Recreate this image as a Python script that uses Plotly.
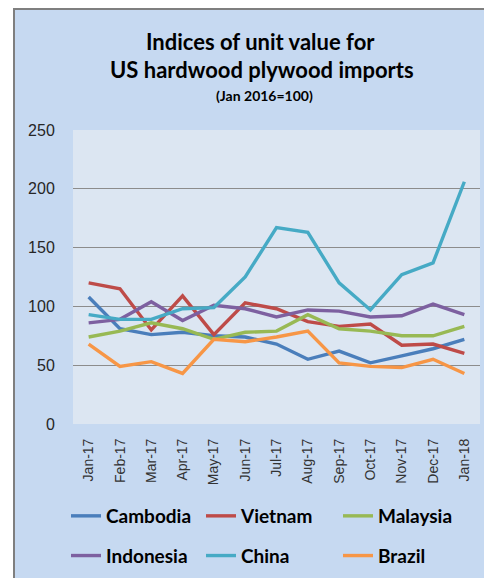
import plotly.graph_objects as go

months = ["Jan-17", "Feb-17", "Mar-17", "Apr-17", "May-17", "Jun-17", "Jul-17",
          "Aug-17", "Sep-17", "Oct-17", "Nov-17", "Dec-17", "Jan-18"]

cambodia = [108, 81, 76, 78, 75, 74, 68, 55, 62, 52, 58, 64, 72]
vietnam = [120, 115, 80, 109, 76, 103, 98, 87, 83, 85, 67, 68, 60]
malaysia = [74, 79, 86, 81, 72, 78, 79, 93, 81, 79, 75, 75, 83]
indonesia = [86, 89, 104, 88, 101, 98, 91, 97, 96, 91, 92, 102, 93]
china = [93, 89, 89, 98, 99, 125, 167, 163, 120, 97, 127, 137, 206]
brazil = [68, 49, 53, 43, 72, 70, 74, 79, 52, 49, 48, 55, 43]

series = [
    ("Cambodia", cambodia, "#4A7EBB", "legend"),
    ("Vietnam", vietnam, "#BE4B48", "legend2"),
    ("Malaysia", malaysia, "#98B954", "legend3"),
    ("Indonesia", indonesia, "#7D60A0", "legend"),
    ("China", china, "#46AAC5", "legend2"),
    ("Brazil", brazil, "#F79646", "legend3"),
]

# page body has an 8px margin; work in reference-pixel coordinates and shift
OFF = 8
W, H = 492, 578


def fx(x):
    return x - OFF


def fy(y):
    return y - OFF


PL, PR, PT, PB = fx(73), fx(480), fy(130), fy(424)
L, R, T, B = PL, W - PR, PT, H - PB
pw = PR - PL
ph = PB - PT


def px_x(x):
    return (fx(x) - PL) / pw


def px_y(y):
    return (PB - fy(y)) / ph


fig = go.Figure()
for i, (name, vals, color, lg) in enumerate(series):
    fig.add_trace(go.Scatter(x=months, y=vals, name=name, mode="lines",
                             line=dict(color=color, width=3.4),
                             legend=lg, legendgroup="g%d" % i))

legend_common = dict(
    orientation="v", xref="container", yref="container",
    xanchor="left", yanchor="top", bgcolor="rgba(0,0,0,0)",
    tracegroupgap=12, borderwidth=0,
    font=dict(family="Lato", size=19, color="#000000", weight="bold"),
)
leg_top = fy(518) - 21

fig.update_layout(
    width=W, height=H,
    margin=dict(l=L, r=R, t=T, b=B, autoexpand=False),
    paper_bgcolor="white",
    plot_bgcolor="rgba(0,0,0,0)",
    showlegend=True,
    font=dict(family="Liberation Sans", color="#262626"),
    shapes=[
        dict(type="rect", xref="paper", yref="paper", layer="below",
             x0=px_x(14), x1=px_x(530), y0=px_y(610), y1=px_y(9),
             fillcolor="#C6D9F1", line=dict(color="#7F7F7F", width=2)),
        dict(type="rect", xref="paper", yref="paper", layer="below",
             x0=0, x1=1, y0=0, y1=1,
             fillcolor="#DCE6F2", line=dict(width=0)),
    ],
    annotations=[
        dict(text="<b>Indices of unit value for</b>", xref="paper", yref="paper",
             x=px_x(260), y=px_y(41), showarrow=False,
             font=dict(family="Lato", size=22, color="#000000"),
             xanchor="center", yanchor="middle"),
        dict(text="<b>US hardwood plywood imports</b>", xref="paper", yref="paper",
             x=px_x(262), y=px_y(69), showarrow=False,
             font=dict(family="Lato", size=22, color="#000000"),
             xanchor="center", yanchor="middle"),
        dict(text="<b>(Jan 2016=100)</b>", xref="paper", yref="paper",
             x=px_x(264), y=px_y(95), showarrow=False,
             font=dict(family="Lato", size=14, color="#000000"),
             xanchor="center", yanchor="middle"),
    ],
    xaxis=dict(
        type="category", range=[-0.5, 12.5], tickangle=-90,
        showgrid=False, zeroline=False, showline=False,
        ticks="outside", ticklen=8, tickcolor="rgba(0,0,0,0)",
        tickfont=dict(family="Liberation Sans", size=14, color="#333333"),
    ),
    yaxis=dict(
        range=[0, 250], tickvals=[0, 50, 100, 150, 200, 250],
        showgrid=True, gridcolor="#8C8C8C", gridwidth=1.2,
        zeroline=False, showline=False,
        ticks="outside", ticklen=14, tickcolor="rgba(0,0,0,0)",
        tickfont=dict(family="Liberation Sans", size=16, color="#262626"),
    ),
    legend=dict(legend_common, x=(fx(106) - 40) / W, y=1 - leg_top / H),
    legend2=dict(legend_common, x=(fx(241) - 40) / W, y=1 - leg_top / H),
    legend3=dict(legend_common, x=(fx(378) - 40) / W, y=1 - leg_top / H),
)

fig.write_html(
    "out.html",
    post_script="document.documentElement.style.overflow='hidden';"
                "document.body.style.overflow='hidden';",
)
